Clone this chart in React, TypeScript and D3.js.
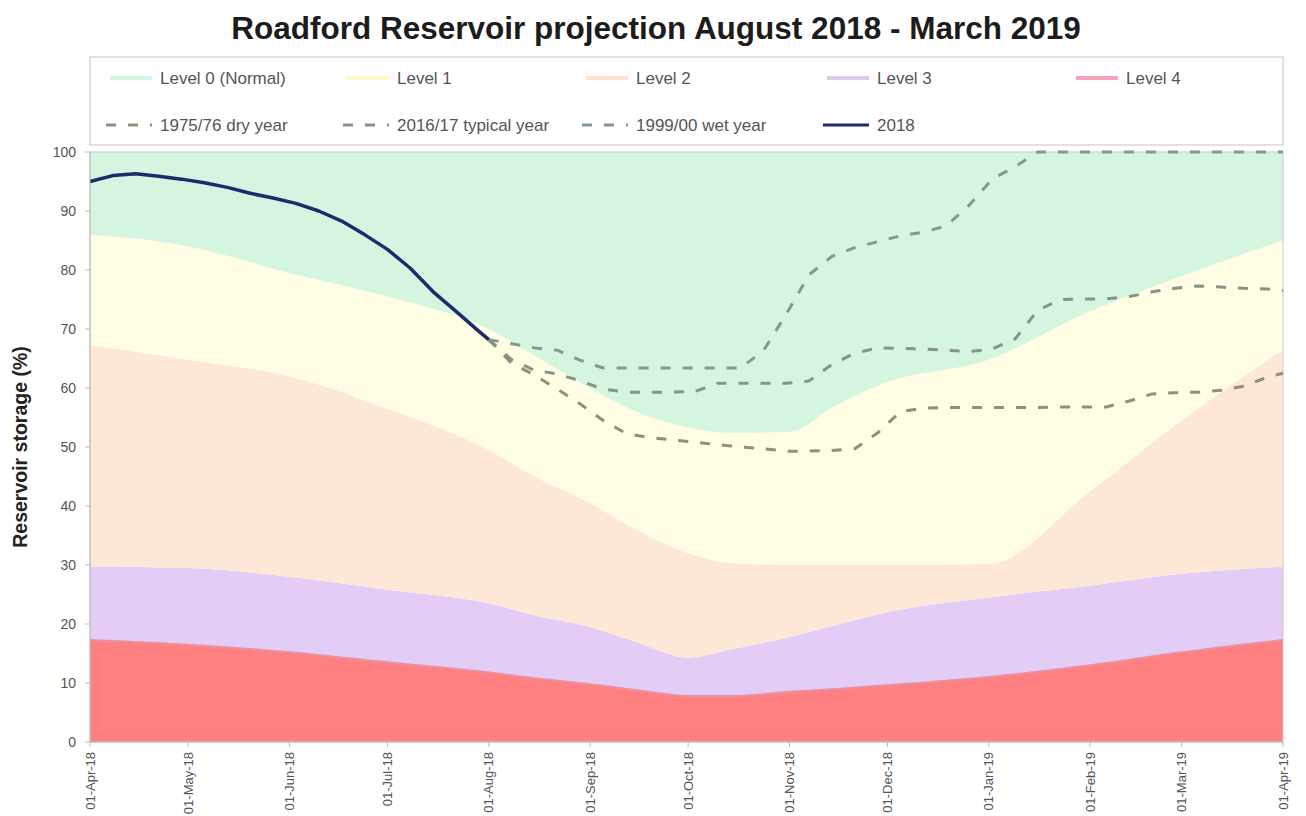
import * as d3 from 'd3';

const WIDTH = 1306;
const HEIGHT = 816;
const margin = { top: 152, right: 23, bottom: 74, left: 90 };

// drought trigger curves (% storage), shared dates
const levelDates = [
  '2018-04-01', '2018-05-01', '2018-06-01', '2018-07-01', '2018-08-01', '2018-08-15',
  '2018-09-01', '2018-09-15', '2018-10-01', '2018-10-15', '2018-11-01', '2018-11-15',
  '2018-12-01', '2019-01-01', '2019-02-01', '2019-03-01', '2019-04-01',
];
const level1 = [86, 84, 79.5, 75.5, 70, 65.5, 60, 56, 53.3, 52.4, 52.6, 57, 61, 64.8, 73, 79, 85];
const level2 = [67.3, 64.8, 62, 56.5, 49.5, 45, 40.5, 36, 32, 30.3, 30, 30, 30, 30.2, 42.5, 54.5, 66.5];
const level3 = [29.7, 29.5, 28, 25.8, 23.5, 21.5, 19.5, 17, 14.3, 15.8, 17.8, 19.8, 22, 24.5, 26.5, 28.5, 29.7];
const level4 = [17.3, 16.5, 15.2, 13.5, 11.8, 10.8, 9.8, 8.8, 7.8, 7.8, 8.5, 9, 9.6, 11, 13, 15.2, 17.3];

// 2018 observed storage
const obsDates = [
  '2018-04-01', '2018-04-08', '2018-04-15', '2018-04-22', '2018-04-29', '2018-05-06',
  '2018-05-13', '2018-05-20', '2018-05-27', '2018-06-03', '2018-06-10', '2018-06-17',
  '2018-06-24', '2018-07-01', '2018-07-08', '2018-07-15', '2018-07-22', '2018-07-29', '2018-08-01',
];
const obs2018 = [95, 96, 96.3, 95.9, 95.4, 94.8, 94, 93, 92.2, 91.3, 90, 88.3, 86, 83.5, 80.3, 76.3, 73, 69.6, 68.2];

// projections, weekly from 1 Aug
const projDates = [
  '2018-08-01', '2018-08-08', '2018-08-15', '2018-08-22', '2018-08-29', '2018-09-05',
  '2018-09-12', '2018-09-19', '2018-09-26', '2018-10-03', '2018-10-10', '2018-10-17',
  '2018-10-24', '2018-10-31', '2018-11-07', '2018-11-14', '2018-11-21', '2018-11-28',
  '2018-12-05', '2018-12-12', '2018-12-19', '2018-12-26', '2019-01-02', '2019-01-09',
  '2019-01-16', '2019-01-23', '2019-01-30', '2019-02-06', '2019-02-13', '2019-02-20',
  '2019-02-27', '2019-03-06', '2019-03-13', '2019-03-20', '2019-03-27', '2019-04-01',
];
const dryYear = [
  68.2, 64.2, 62.2, 59.8, 57.3, 54.5, 52.3, 51.6, 51.2, 50.8, 50.4, 50, 49.7, 49.3, 49.3, 49.4,
  49.7, 52.4, 56, 56.6, 56.7, 56.7, 56.7, 56.7, 56.7, 56.8, 56.8, 56.8, 57.8, 59, 59.2, 59.3,
  59.6, 60.3, 61.8, 62.5,
];
const typicalYear = [
  68.2, 64.8, 63, 62.4, 61.2, 59.8, 59.3, 59.3, 59.3, 59.4, 60.8, 60.8, 60.8, 60.8, 61.2, 64,
  65.9, 66.8, 66.7, 66.6, 66.4, 66.2, 66.6, 68.3, 73.2, 75, 75.1, 75.1, 75.5, 76.3, 76.9, 77.3,
  77.1, 76.9, 76.8, 76.5,
];
const wetYear = [
  68.2, 67.5, 66.8, 66.4, 64.7, 63.4, 63.4, 63.4, 63.4, 63.4, 63.4, 63.4, 66.3, 72.5, 79.2, 82.3,
  83.8, 84.8, 85.8, 86.4, 87.5, 91, 95.4, 97.5, 100, 100, 100, 100, 100, 100, 100, 100,
  100, 100, 100, 100,
];

const bandNames = ['Level 0 (Normal)', 'Level 1', 'Level 2', 'Level 3', 'Level 4'];
const bandColors = ['#d4f6e1', '#fffde2', '#fde8d7', '#e3cdf7', '#fe8080'];
const swatchColors = ['#d4f6e1', '#fdf9c8', '#fde2cf', '#dccbe8', '#f5a3b6'];
const lineNames = ['1975/76 dry year', '2016/17 typical year', '1999/00 wet year', '2018'];
const lineColors = ['#958d78', '#86928a', '#7f9c8a', '#1f2a6b'];
const legendCols = [160, 397, 636, 877, 1126];

const parse = d3.timeParse('%Y-%m-%d');
const fmt = d3.timeFormat('%d-%b-%y');

type Pt = { d: Date; v: number };
const toPts = (dates: string[], vals: number[]): Pt[] => dates.map((s, i) => ({ d: parse(s) as Date, v: vals[i] }));

export default function App() {
  const x = d3
    .scaleTime()
    .domain([parse('2018-04-01') as Date, parse('2019-04-01') as Date])
    .range([margin.left, WIDTH - margin.right]);
  const y = d3.scaleLinear().domain([0, 100]).range([HEIGHT - margin.bottom, margin.top]);

  const bands = [
    { lo: null, hi: level4 },
    { lo: level4, hi: level3 },
    { lo: level3, hi: level2 },
    { lo: level2, hi: level1 },
    { lo: level1, hi: null },
  ];
  const band = (lo: number[] | null, hi: number[] | null) =>
    d3
      .area<number>()
      .x((i) => x(parse(levelDates[i]) as Date))
      .y0((i) => y(lo ? lo[i] : 0))
      .y1((i) => y(hi ? hi[i] : 100))
      .curve(d3.curveMonotoneX)(levelDates.map((_, i) => i));

  const line = d3
    .line<Pt>()
    .x((p) => x(p.d))
    .y((p) => y(p.v));
  const smooth = d3
    .line<Pt>()
    .x((p) => x(p.d))
    .y((p) => y(p.v))
    .curve(d3.curveMonotoneX);

  const proj = [dryYear, typicalYear, wetYear].map((vals) => toPts(projDates, vals));
  const obs = toPts(obsDates, obs2018);
  const xTicks = d3.timeMonth.range(parse('2018-04-01') as Date, parse('2019-04-02') as Date);
  const yTicks = d3.range(0, 101, 10);
  const x0 = margin.left;
  const x1 = WIDTH - margin.right;
  const yb = HEIGHT - margin.bottom;
  const font = 'Arial, "Liberation Sans", sans-serif';

  return (
    <svg width={WIDTH} height={HEIGHT} style={{ position: 'absolute', left: 0, top: 0 }} fontFamily={font}>
      <rect width={WIDTH} height={HEIGHT} fill='#fff' />
      <text x={656} y={39} textAnchor='middle' fontSize={31.5} fontWeight='bold' fill='#1c1c1c'>
        Roadford Reservoir projection August 2018 - March 2019
      </text>

      {/* legend */}
      <rect x={x0} y={57} width={x1 - x0} height={88} fill='#fff' stroke='#c4c4c4' />
      {bandNames.map((n, i) => (
        <g key={n}>
          <line x1={legendCols[i] - 50} x2={legendCols[i] - 8} y1={78} y2={78} stroke={swatchColors[i]} strokeWidth={4} />
          <text x={legendCols[i]} y={78} dy='0.35em' fontSize={17} fill='#555'>{n}</text>
        </g>
      ))}
      {lineNames.map((n, i) => (
        <g key={n}>
          <line
            x1={legendCols[i] - 54}
            x2={legendCols[i] - 8}
            y1={125}
            y2={125}
            stroke={lineColors[i]}
            strokeWidth={3}
            strokeDasharray={i === 3 ? undefined : '10,12'}
          />
          <text x={legendCols[i]} y={125} dy='0.35em' fontSize={17} fill='#555'>{n}</text>
        </g>
      ))}

      {/* drought bands */}
      {bands.map((b, i) => (
        <path key={i} d={band(b.lo, b.hi) ?? ''} fill={bandColors[4 - i]} />
      ))}
      <path d={smooth(toPts(levelDates, level4)) ?? ''} fill='none' stroke='#ec8f9f' strokeWidth={2} />

      {/* plot frame */}
      <rect x={x0} y={margin.top} width={x1 - x0} height={yb - margin.top} fill='none' stroke='#c8c8c8' />

      {/* projections */}
      {proj.map((pts, i) => (
        <path
          key={lineNames[i]}
          d={line(pts) ?? ''}
          fill='none'
          stroke={lineColors[i]}
          strokeWidth={3}
          strokeDasharray='10,12'
        />
      ))}
      <path d={line(obs) ?? ''} fill='none' stroke={lineColors[3]} strokeWidth={3.5} strokeLinejoin='round' />

      {/* y axis */}
      <line x1={x0} x2={x0} y1={margin.top} y2={yb} stroke='#bbb' />
      {yTicks.map((t) => (
        <g key={t}>
          <line x1={x0 - 5} x2={x0} y1={y(t)} y2={y(t)} stroke='#bbb' />
          <text x={x0 - 14} y={y(t)} dy='0.35em' textAnchor='end' fontSize={14} fill='#555'>{t}</text>
        </g>
      ))}
      <text
        transform={`translate(27,${(margin.top + yb) / 2}) rotate(-90)`}
        textAnchor='middle'
        fontSize={19.5}
        fontWeight='bold'
        fill='#222'
      >
        Reservoir storage (%)
      </text>

      {/* x axis */}
      <line x1={x0} x2={x1} y1={yb} y2={yb} stroke='#bbb' />
      {xTicks.map((t) => (
        <g key={+t} transform={`translate(${x(t)},${yb})`}>
          <line y2={5} stroke='#bbb' />
          <text transform='rotate(-90)' x={-10} dy='0.35em' textAnchor='end' fontSize={13} fill='#555'>
            {fmt(t)}
          </text>
        </g>
      ))}
    </svg>
  );
}
